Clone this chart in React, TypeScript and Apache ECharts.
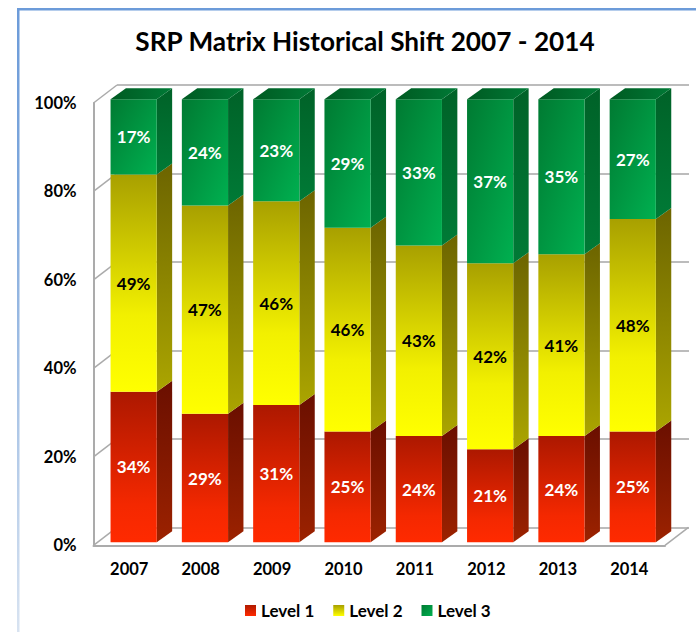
import React, { useEffect, useRef } from "react";
import * as echarts from "echarts";

const years = ["2007", "2008", "2009", "2010", "2011", "2012", "2013", "2014"];
const level1 = [34, 29, 31, 25, 24, 21, 24, 25];
const level2 = [49, 47, 46, 46, 43, 42, 41, 48];
const level3 = [17, 24, 23, 29, 33, 37, 35, 27];
const ticks = [0, 20, 40, 60, 80, 100];
const FONT = "Lato, Carlito, Calibri, sans-serif";

const lin = (x: number, y: number, x2: number, y2: number, stops: [number, string][]) =>
  new echarts.graphic.LinearGradient(x, y, x2, y2, stops.map(([offset, color]) => ({ offset, color })));

const styles = {
  red: {
    front: () => lin(0, 0, 0, 1, [[0, "#AC1800"], [0.75, "#F42800"], [1, "#FF2A00"]]),
    side: () => lin(0, 0, 0, 1, [[0, "#6A0F00"], [1, "#9C2200"]]),
    text: "#FFFFFF",
    legend: () => lin(0, 0, 0, 1, [[0, "#B01A00"], [1, "#FF2A00"]]),
  },
  yellow: {
    front: () => lin(0, 0, 0, 1, [[0, "#A8A000"], [0.65, "#F2F000"], [1, "#FFFF00"]]),
    side: () => lin(0, 0, 0, 1, [[0, "#6C6400"], [1, "#ABA500"]]),
    text: "#000000",
    legend: () => lin(0, 0, 0, 1, [[0, "#A8A000"], [1, "#FFFF00"]]),
  },
  green: {
    front: () => lin(0, 0, 1, 1, [[0, "#007A32"], [1, "#00B050"]]),
    side: () => lin(0, 0, 0, 1, [[0, "#006228"], [1, "#007A36"]]),
    text: "#FFFFFF",
    legend: () => lin(0, 0, 1, 1, [[0, "#007A32"], [1, "#00B050"]]),
  },
};

const DX = 15.4;
const DY = -11;
const WALL_DX = 23.5;
const WALL_DY = -18;
const BAR_RATIO = 46.2 / 71.3;

function boxSeries(name: string, values: number[], bases: number[], st: typeof styles.red) {
  return {
    name,
    type: "custom",
    xAxisIndex: 2,
    yAxisIndex: 2,
    z: 5,
    clip: false,
    itemStyle: { color: st.legend() },
    encode: { x: 0, y: [1, 2] },
    data: values.map((v, i) => [i, v, bases[i]]),
    renderItem: (_: any, api: any) => {
      const idx = api.value(0);
      const val = api.value(1);
      const base = api.value(2);
      const [cx, y0] = api.coord([idx, base]);
      const [, y1] = api.coord([idx, base + val]);
      const w = api.size([1, 0])[0] * BAR_RATIO;
      const xl = cx - w / 2;
      const xr = cx + w / 2;
      const children: any[] = [
        {
          type: "polygon",
          shape: { points: [[xr, y0], [xr + DX, y0 + DY], [xr + DX, y1 + DY], [xr, y1]] },
          style: { fill: st.side() },
        },
        {
          type: "rect",
          shape: { x: xl, y: y1, width: w, height: y0 - y1 },
          style: { fill: st.front() },
        },
      ];
      if (base + val >= 100) {
        children.push({
          type: "polygon",
          shape: { points: [[xl, y1], [xr, y1], [xr + DX, y1 + DY], [xl + DX, y1 + DY]] },
          style: { fill: lin(0, 0, 1, 0, [[0, "#005A22"], [1, "#007A36"]]) },
        });
      }
      children.push({
        type: "text",
        z2: 10,
        style: {
          text: `${val}%`,
          x: cx,
          y: (y0 + y1) / 2,
          align: "center",
          verticalAlign: "middle",
          fill: st.text,
          font: `bold 17px ${FONT}`,
        },
      });
      return { type: "group", children };
    },
  };
}

export default function App() {
  const ref = useRef<HTMLDivElement>(null);
  useEffect(() => {
    const chart = echarts.init(ref.current!, undefined, { renderer: "svg" });
    const base2 = level1.slice();
    const base3 = level1.map((v, i) => v + level2[i]);
    const valueAxis = { type: "value", min: 0, max: 100, interval: 20 };
    chart.setOption({
      animation: false,
      backgroundColor: "#FFFFFF",
      title: {
        text: "SRP Matrix Historical Shift 2007 - 2014",
        left: 360,
        top: 23,
        textAlign: "center",
        textStyle: { fontFamily: FONT, fontWeight: "bold", fontSize: 26.2, color: "#000000" },
      },
      legend: {
        left: 240,
        top: 597,
        itemWidth: 11,
        itemHeight: 11,
        itemGap: 19,
        icon: "rect",
        data: ["Level 1", "Level 2", "Level 3"],
        textStyle: { fontFamily: FONT, fontWeight: "bold", fontSize: 17, color: "#000000" },
      },
      graphic: [
        { type: "rect", shape: { x: 17, y: 8, width: 679, height: 2.5 }, style: { fill: "#6C9BD9" } },
        {
          type: "rect",
          shape: { x: 17, y: 8, width: 2.5, height: 624 },
          style: { fill: lin(0, 0, 0, 1, [[0, "#6C9BD9"], [0.3, "#7FA8DC"], [1, "#D8E3F1"]]) },
        },
      ],
      grid: [
        { left: 93.5, top: 103, width: 571.5, height: 442.3 },
        { left: 117, top: 85, width: 572, height: 442.3 },
        { left: 98, top: 99.3, width: 570.4, height: 443 },
      ],
      xAxis: [
        {
          type: "category",
          gridIndex: 0,
          data: years,
          axisLine: { show: true, lineStyle: { color: "#ABABAB", width: 2 } },
          axisTick: { show: false },
          axisLabel: { margin: 15, color: "#000000", fontFamily: FONT, fontWeight: "bold", fontSize: 16.5 },
        },
        { type: "category", gridIndex: 1, data: years, show: false },
        { type: "category", gridIndex: 2, data: years, show: false },
      ],
      yAxis: [
        {
          ...valueAxis,
          gridIndex: 0,
          axisLine: { show: true, lineStyle: { color: "#ABABAB", width: 2 } },
          axisTick: { show: false },
          splitLine: { show: false },
          axisLabel: {
            margin: 17,
            formatter: "{value}%",
            color: "#000000",
            fontFamily: FONT,
            fontWeight: "bold",
            fontSize: 16.5,
          },
        },
        {
          ...valueAxis,
          gridIndex: 1,
          axisLine: { show: false },
          axisTick: { show: false },
          axisLabel: { show: false },
          splitLine: { show: true, lineStyle: { color: "#A6A6A6", width: 1.5 } },
        },
        { ...valueAxis, gridIndex: 2, show: false, splitLine: { show: false } },
      ],
      series: [
        {
          type: "custom",
          xAxisIndex: 0,
          yAxisIndex: 0,
          z: 1,
          silent: true,
          clip: false,
          encode: { y: 0 },
          data: ticks.map((t) => [t]),
          renderItem: (params: any, api: any) => {
            const t = api.value(0);
            const [, y] = api.coord([0, t]);
            const x = params.coordSys.x;
            const lines: any[] = [
              {
                type: "line",
                shape: { x1: x, y1: y, x2: x + WALL_DX, y2: y + WALL_DY },
                style: { stroke: "#ABABAB", lineWidth: 1.5 },
              },
            ];
            if (t === 0) {
              const xr = x + params.coordSys.width;
              lines.push({
                type: "line",
                shape: { x1: xr, y1: y, x2: xr + WALL_DX, y2: y + WALL_DY },
                style: { stroke: "#ABABAB", lineWidth: 1.5 },
              });
            }
            return { type: "group", children: lines };
          },
        },
        boxSeries("Level 1", level1, years.map(() => 0), styles.red),
        boxSeries("Level 2", level2, base2, styles.yellow),
        boxSeries("Level 3", level3, base3, styles.green),
      ],
    });
    return () => chart.dispose();
  }, []);
  return <div ref={ref} style={{ width: 696, height: 632, position: "fixed", left: 0, top: 0 }} />;
}
